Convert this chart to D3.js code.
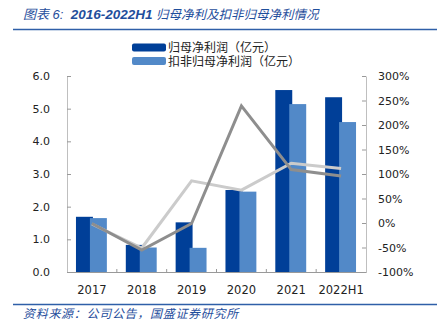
<!DOCTYPE html>
<html><head><meta charset="utf-8">
<script src="https://cdn.jsdelivr.net/npm/d3@7"></script>
<style>body{margin:0;background:#fff}svg{display:block}</style>
</head><body>
<script>
const categories = ["2017","2018","2019","2020","2021","2022H1"];
const netProfit = [1.69, 0.83, 1.52, 2.51, 5.57, 5.35];
const deductedProfit = [1.65, 0.75, 0.74, 2.46, 5.14, 4.59];
const netGrowth = [-2, -51, 86, 67, 122, 111];
const deductedGrowth = [-1, -55, -1, 239, 109, 96];
const leftTicks = [0,1,2,3,4,5,6];
const rightTicks = [-100,-50,0,50,100,150,200,250,300];
const seriesNames = ["归母净利润（亿元）","扣非归母净利润（亿元）"];
const titleParts = ["图表 6:\u00a0\u00a0", "2016-2022H1", " 归母净利及扣非归母净利情况"];
const sourceText = "资料来源：公司公告，国盛证券研究所";

const W = 441, H = 335;
const svg = d3.select("body").append("svg").attr("width", W).attr("height", H);
const numFont = "'DejaVu Sans', Verdana, sans-serif";
const cjkFont = "'Liberation Sans', 'Noto Sans CJK SC', sans-serif";
const axisColor = "#bfbfbf";
const blue = "#1f4e9c";

// title
const title = svg.append("text").attr("x", 23).attr("y", 19).attr("fill", blue)
  .attr("font-family", cjkFont).attr("font-size", 13).attr("font-style", "italic");
title.append("tspan").text(titleParts[0]);
title.append("tspan").attr("font-weight", "bold").attr("font-size", 13.5).text(titleParts[1]);
title.append("tspan").attr("font-size", 12.5).text(titleParts[2]);
svg.append("line").attr("x1", 13).attr("x2", 437).attr("y1", 29.5).attr("y2", 29.5)
  .attr("stroke", "#2f5fa8").attr("stroke-width", 1.5);

// legend
const darkC = "#003f98", lightC = "#5289c8";
const legend = [{c: darkC, y: 43.5}, {c: lightC, y: 57}];
legend.forEach((d, i) => {
  svg.append("rect").attr("x", 132).attr("y", d.y).attr("width", 34).attr("height", 8)
    .attr("rx", 2).attr("fill", d.c);
  svg.append("text").attr("x", 168).attr("y", d.y + 8.5).attr("font-family", cjkFont)
    .attr("font-size", 12).attr("fill", "#222").text(seriesNames[i]);
});

const x0 = 67, x1 = 366, yTop = 76, yBot = 272;
const x = d3.scaleBand().domain(categories).range([x0, x1]);
const yL = d3.scaleLinear().domain([0, 6]).range([yBot, yTop]);
const yR = d3.scaleLinear().domain([-100, 300]).range([yBot, yTop]);

// axes
const gL = svg.append("g").attr("transform", `translate(${x0},0)`)
  .call(d3.axisLeft(yL).tickValues(leftTicks).tickFormat(d3.format(".1f")).tickSizeInner(-4).tickSizeOuter(0).tickPadding(17));
const gR = svg.append("g").attr("transform", `translate(${x1},0)`)
  .call(d3.axisRight(yR).tickValues(rightTicks).tickFormat(d => d + "%").tickSizeInner(-4).tickSizeOuter(0).tickPadding(12));
[gL, gR].forEach(g => {
  g.select(".domain").attr("stroke", axisColor);
  g.selectAll(".tick line").attr("stroke", "#999");
  g.selectAll("text").attr("font-family", numFont).attr("font-size", 11).attr("fill", "#222");
});

// bars
const bw = x.bandwidth();
svg.append("g").selectAll("rect").data(categories).join("rect")
  .attr("x", d => x(d) + bw * 0.18).attr("width", bw * 0.34)
  .attr("y", (d, i) => yL(netProfit[i])).attr("height", (d, i) => yBot - yL(netProfit[i]))
  .attr("fill", darkC);
svg.append("g").selectAll("rect").data(categories).join("rect")
  .attr("x", d => x(d) + bw * 0.46).attr("width", bw * 0.34)
  .attr("y", (d, i) => yL(deductedProfit[i])).attr("height", (d, i) => yBot - yL(deductedProfit[i]))
  .attr("fill", lightC);

// x axis
const gX = svg.append("g").attr("transform", `translate(0,${yBot})`)
  .call(d3.axisBottom(x).tickSize(0).tickPadding(14));
gX.select(".domain").attr("stroke", "#999");
gX.selectAll("text").attr("font-family", numFont).attr("font-size", 11.5).attr("fill", "#222");
svg.append("g").selectAll("line").data(categories.slice(1)).join("line")
  .attr("x1", d => x(d)).attr("x2", d => x(d)).attr("y1", yBot - 3).attr("y2", yBot)
  .attr("stroke", "#999");

// lines
const line = d3.line().x((d, i) => x(categories[i]) + bw / 2).y(d => yR(d));
svg.append("path").datum(netGrowth).attr("d", line).attr("fill", "none")
  .attr("stroke", "#cbcbcb").attr("stroke-width", 3);
svg.append("path").datum(deductedGrowth).attr("d", line).attr("fill", "none")
  .attr("stroke", "#8e8e8e").attr("stroke-width", 3);

// footer
svg.append("line").attr("x1", 13).attr("x2", 437).attr("y1", 304.5).attr("y2", 304.5)
  .attr("stroke", "#2f5fa8").attr("stroke-width", 1.5);
svg.append("text").attr("x", 23).attr("y", 318).attr("fill", blue)
  .attr("font-family", cjkFont).attr("font-size", 12).attr("font-style", "italic")
  .attr("letter-spacing", 0.7).text(sourceText);
</script>
</body></html>
